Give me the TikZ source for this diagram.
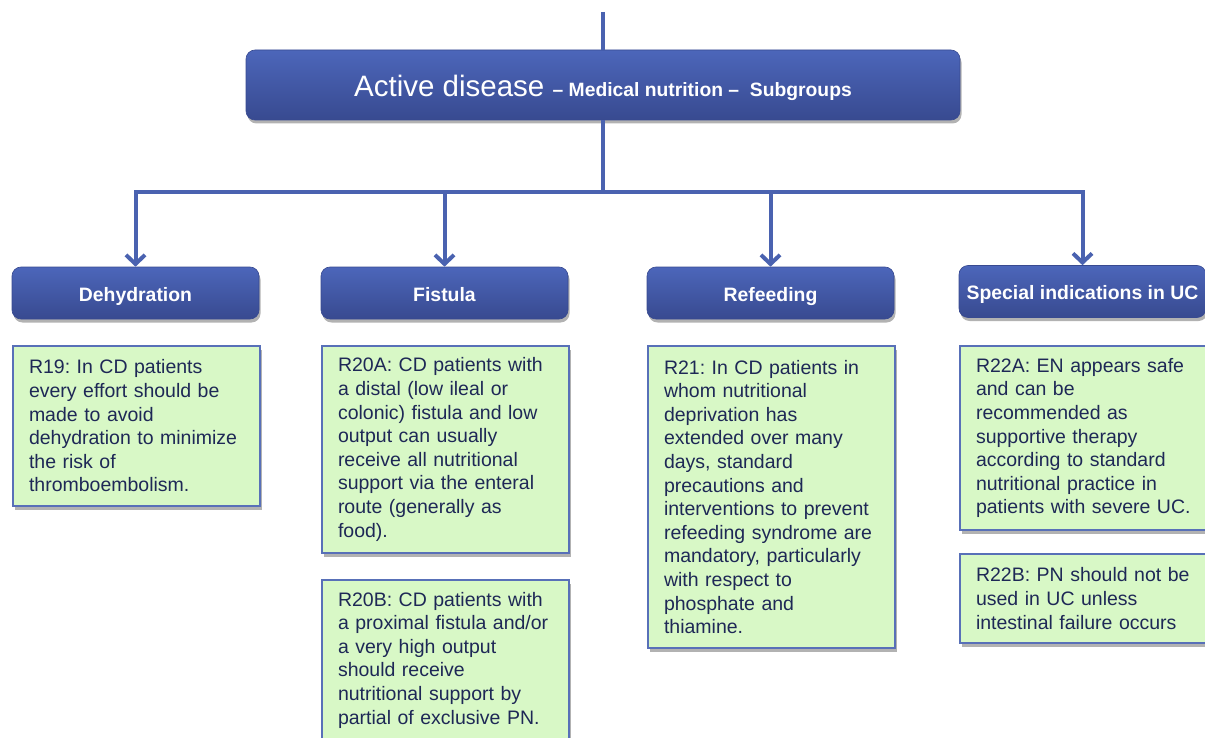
\documentclass[tikz,border=0pt]{standalone}
\usepackage{fontspec}
\setmainfont{Liberation Sans}
\frenchspacing
\usetikzlibrary{arrows.meta,shadows}
\definecolor{linkblue}{RGB}{74,98,176}
\definecolor{boxtop}{RGB}{76,102,186}
\definecolor{boxbot}{RGB}{56,74,144}
\definecolor{notefill}{RGB}{216,248,198}
\definecolor{noteedge}{RGB}{88,112,184}
\definecolor{notetext}{RGB}{30,40,86}
\begin{document}
\begin{tikzpicture}[x=1pt,y=-1pt,
  bluebox/.style={rectangle, rounded corners=9pt, top color=boxtop, bottom color=boxbot,
    draw=boxbot, line width=0.6pt, text=white,
    drop shadow={shadow xshift=1.5pt, shadow yshift=-3.5pt, opacity=0.3, fill=black}},
  header/.style={bluebox, minimum width=247pt, minimum height=52pt, inner sep=0pt,
    text height=18pt, text depth=2pt,
    font=\fontsize{19.4}{23}\selectfont\bfseries},
  note/.style={rectangle, draw=noteedge, line width=2pt, fill=notefill, text=notetext,
    text width=215pt, inner xsep=16pt, inner ysep=0pt, align=left, anchor=north west,
    font=\fontsize{19.5}{23.6}\selectfont,
    drop shadow={shadow xshift=2pt, shadow yshift=-4pt, opacity=0.3, fill=black}},
  link/.style={draw=linkblue, line width=4pt},
  arr/.style={link, -{Straight Barb[length=9pt,width=19pt]}}
]
\useasboundingbox (0,0) rectangle (1205,738);

% title
\node[bluebox, minimum width=714pt, minimum height=70pt, inner sep=0pt,
  text height=28pt, text depth=4pt] (title) at (603,85)
  {{\fontsize{29.5}{34}\selectfont Active disease\ }{\fontsize{19.3}{22}\selectfont\bfseries -- Medical nutrition --\ \ Subgroups}};

% headers
\node[header] (dehyd) at (135.5,293) {Dehydration};
\node[header] (fist) at (444.5,293) {Fistula};
\node[header] (refeed) at (770.5,293) {Refeeding};
\node[header] (special) at (1082.5,291.5) {Special indications in UC};

% connectors
\coordinate (topend) at (603,12);
\coordinate (junc) at (603,192);
\draw[link] (topend) -- (title.north);
\draw[link] (title.south) -- (junc);
\draw[arr] (junc) -| (dehyd.north);
\draw[arr] (junc) -| (fist.north);
\draw[arr] (junc) -| (refeed.north);
\draw[arr] (junc) -| (special.north);

% notes
\node[note, minimum height=160pt] (r19) at (12,345)
  {R19: In CD patients\\every effort should be\\made to avoid\\dehydration to minimize\\the risk of\\thromboembolism.};
\node[note, minimum height=207pt] (r20a) at (321,345)
  {R20A: CD patients with\\a distal (low ileal or\\colonic) fistula and low\\output can usually\\receive all nutritional\\support via the enteral\\route (generally as\\food).};
\node[note, minimum height=160pt] (r20b) at (321,579)
  {R20B: CD patients with\\a proximal fistula and/or\\a very high output\\should receive\\nutritional support by\\partial of exclusive PN.};
\node[note, minimum height=302pt] (r21) at (647,345)
  {R21: In CD patients in\\whom nutritional\\deprivation has\\extended over many\\days, standard\\precautions and\\interventions to prevent\\refeeding syndrome are\\mandatory, particularly\\with respect to\\phosphate and\\thiamine.};
\node[note, minimum height=184pt] (r22a) at (959,345)
  {R22A: EN appears safe\\and can be\\recommended as\\supportive therapy\\according to standard\\nutritional practice in\\patients with severe UC.};
\node[note, minimum height=89pt] (r22b) at (959,553)
  {R22B: PN should not be\\used in UC unless\\intestinal failure occurs};
\end{tikzpicture}
\end{document}
